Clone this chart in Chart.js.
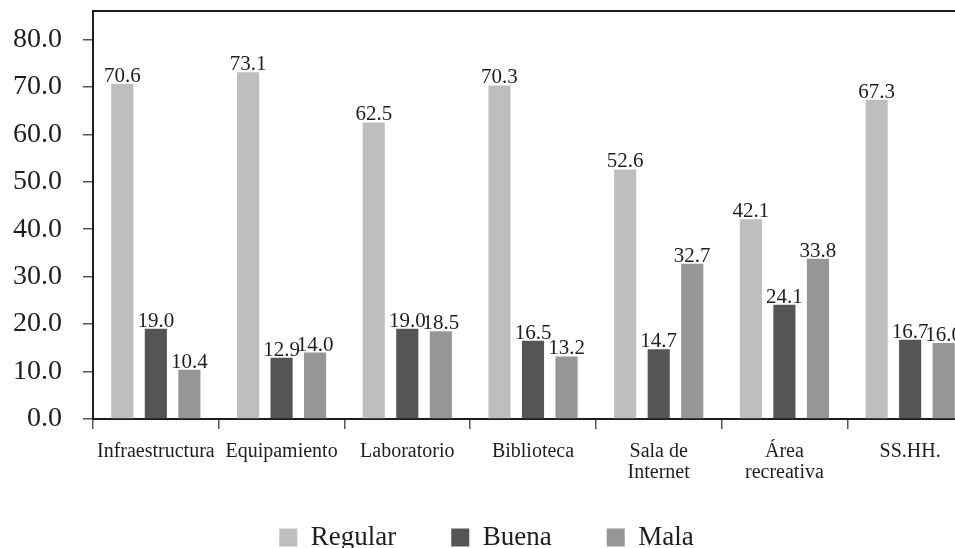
<!DOCTYPE html>
<html>
<head>
<meta charset="utf-8">
<script src="https://cdn.jsdelivr.net/npm/chart.js@4"></script>
<style>
  html, body { margin: 0; padding: 0; background: #fff; overflow: hidden; }
  #wrap { width: 975px; height: 548px; }
</style>
</head>
<body>
<div id="wrap"><canvas id="barChart" width="975" height="548"></canvas></div>
<script>
const categories = [
    'Infraestructura', 'Equipamiento', 'Laboratorio', 'Biblioteca',
    ['Sala de', 'Internet'], ['Área', 'recreativa'], 'SS.HH.'
];
const regular = [70.6, 73.1, 62.5, 70.3, 52.6, 42.1, 67.3];
const buena = [19.0, 12.9, 19.0, 16.5, 14.7, 24.1, 16.7];
const mala = [10.4, 14.0, 18.5, 13.2, 32.7, 33.8, 16.0];
const yTicks = [0, 10, 20, 30, 40, 50, 60, 70, 80];

const serif = '"Liberation Serif", "DejaVu Serif", serif';
const ink = '#1e1e1e';

// value printed above each bar
const valueLabels = {
    id: 'valueLabels',
    afterDatasetsDraw(chart) {
        const ctx = chart.ctx;
        ctx.save();
        ctx.font = '21px ' + serif;
        ctx.fillStyle = ink;
        ctx.textAlign = 'center';
        ctx.textBaseline = 'alphabetic';
        chart.data.datasets.forEach((ds, i) => {
            chart.getDatasetMeta(i).data.forEach((bar, j) => {
                ctx.fillText(ds.data[j].toFixed(1), bar.x, bar.y - 2);
            });
        });
        ctx.restore();
    }
};

// top edge of the plot frame
const topFrame = {
    id: 'topFrame',
    afterDraw(chart) {
        const { ctx, chartArea } = chart;
        ctx.save();
        ctx.strokeStyle = ink;
        ctx.lineWidth = 2;
        ctx.beginPath();
        ctx.moveTo(chartArea.left - 1, chartArea.top);
        ctx.lineTo(chartArea.right, chartArea.top);
        ctx.stroke();
        ctx.restore();
    }
};

// legend sits a bit higher than its layout box (keep bottom so it isn't clipped)
const liftLegend = {
    id: 'liftLegend',
    afterLayout(chart) {
        chart.legend.top -= 20;
    }
};

document.addEventListener('DOMContentLoaded', function () {
    const ctx = document.getElementById('barChart').getContext('2d');
    new Chart(ctx, {
        type: 'bar',
        data: {
            labels: categories,
            datasets: [
                { label: 'Regular', data: regular, backgroundColor: '#bebebf', borderWidth: 0 },
                { label: 'Buena', data: buena, backgroundColor: '#555557', borderWidth: 0 },
                { label: 'Mala', data: mala, backgroundColor: '#969698', borderWidth: 0 }
            ]
        },
        options: {
            responsive: false,
            animation: false,
            categoryPercentage: 0.8,
            barPercentage: 0.66,
            layout: { padding: { left: 0, right: 2, top: 11, bottom: 0 } },
            scales: {
                x: {
                    grid: { drawOnChartArea: false, tickLength: 10, color: '#555', lineWidth: 1.5 },
                    border: { color: ink, width: 2 },
                    ticks: {
                        color: ink, font: { family: serif, size: 20, lineHeight: 1.05 }, padding: 12,
                        maxRotation: 0, autoSkip: false
                    },
                    afterFit: scale => { scale.height = 70; }
                },
                y: {
                    min: 0,
                    max: 86,
                    grid: { drawOnChartArea: false, tickLength: 10, color: '#555', lineWidth: 1.5 },
                    border: { color: ink, width: 2 },
                    ticks: {
                        stepSize: 10,
                        color: ink,
                        padding: 21,
                        font: { family: serif, size: 28 },
                        callback: v => v.toFixed(1)
                    },
                    afterBuildTicks: scale => {
                        scale.ticks = yTicks.map(v => ({ value: v }));
                    },
                    afterFit: scale => {
                        scale.width = 93;
                        scale.paddingTop = 0;
                        scale.paddingBottom = 0;
                    }
                }
            },
            plugins: {
                legend: {
                    position: 'bottom',
                    maxHeight: 59,
                    labels: {
                        color: ink,
                        font: { family: serif, size: 27 },
                        boxWidth: 18,
                        boxHeight: 18,
                        padding: 55
                    }
                },
                tooltip: { enabled: false }
            }
        },
        plugins: [valueLabels, topFrame, liftLegend]
    });
});
</script>
</body>
</html>
